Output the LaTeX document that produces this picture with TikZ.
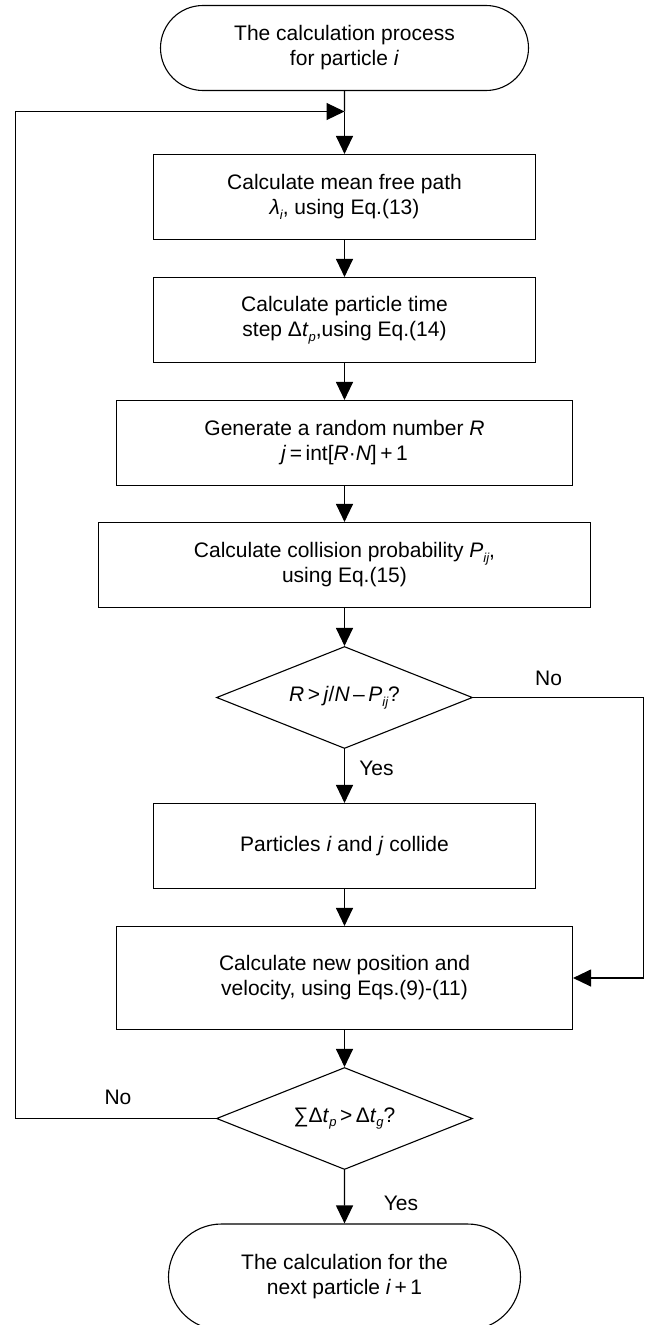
\documentclass[tikz,border=0pt]{standalone}
\usepackage{fontspec}
\setmainfont{Liberation Sans}
\usetikzlibrary{arrows.meta,shapes.geometric,shapes.misc}
\newcommand{\sbs}[1]{\raisebox{-4.5pt}{\fontsize{13pt}{13pt}\selectfont\itshape #1}}
\begin{document}
\begin{tikzpicture}[x=1pt, y=-1pt, line width=1.1pt,
  font=\fontsize{21pt}{25pt}\selectfont,
  box/.style={draw, rectangle, align=center, inner sep=0pt, minimum height=85pt},
  term/.style={draw, rounded rectangle, align=center, inner sep=0pt},
  dec/.style={draw, diamond, aspect=2.5, inner sep=0pt, minimum width=256pt, minimum height=102pt},
  arr/.style={-{Triangle[length=18pt,width=17pt]}},
  lbl/.style={inner sep=0pt}]
\useasboundingbox (0,0) rectangle (645,1325);
\fill[white] (0,0) rectangle (645,1325);

\node[term, minimum width=368pt, minimum height=85pt] (start) at (344.5,48) {The calculation process\\for particle \textit{i}};
\node[box, minimum width=382pt] (b1) at (344.5,197) {Calculate mean free path\\\textit{λ}\sbs{i}, using Eq.(13)};
\node[box, minimum width=382pt] (b2) at (344.5,320) {Calculate particle time\\step Δ\textit{t}\sbs{p},using Eq.(14)};
\node[box, minimum width=456pt] (b3) at (344.5,443) {Generate a random number \textit{R}\\\textit{j}\,=\,int[\textit{R}·\textit{N}]\,+\,1};
\node[box, minimum width=492pt] (b4) at (344.5,565) {Calculate collision probability \textit{P}\sbs{ij},\\using Eq.(15)};
\node[dec] (d1) at (344.5,697.5) {\textit{R}\,>\,\textit{j}/\textit{N}\,–\,\textit{P}\sbs{ij}?};
\node[box, minimum width=382pt] (b5) at (344.5,846) {Particles \textit{i} and \textit{j} collide};
\node[box, minimum width=456pt, minimum height=103pt] (b6) at (344.5,978) {Calculate new position and\\velocity, using Eqs.(9)-(11)};
\node[dec] (d2) at (344.5,1118.5) {∑Δ\textit{t}\sbs{p}\,>\,Δ\textit{t}\sbs{g}?};
\node[term, minimum width=352pt, minimum height=106pt] (end) at (344.5,1277) {The calculation for the\\next particle \textit{i}\,+\,1};

\coordinate (join) at (344.5,111.5);
\coordinate (rx) at (643.5,697.5);
\coordinate (lx) at (15.5,1118.5);

\draw (start) -- (join);
\draw[arr] (join) -- (b1);
\draw[arr] (b1) -- (b2);
\draw[arr] (b2) -- (b3);
\draw[arr] (b3) -- (b4);
\draw[arr] (b4) -- (d1);
\draw[arr] (d1) -- (b5);
\draw[arr] (b5) -- (b6);
\draw[arr] (b6) -- (d2);
\draw[arr] (d2) -- (end);
\draw[arr] (d1.east) -- (rx) |- (b6.east);
\draw[arr] (d2.west) -- (lx) |- (join);

\node[lbl] (no1) at (548.6,678) {No};
\node[lbl] (yes1) at (376.5,768.7) {Yes};
\node[lbl] (no2) at (118,1097.7) {No};
\node[lbl] (yes2) at (401,1203) {Yes};
\end{tikzpicture}
\end{document}
